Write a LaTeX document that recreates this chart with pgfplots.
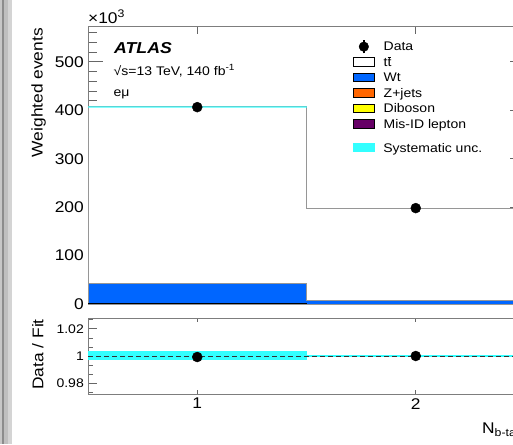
\documentclass[border=0pt]{standalone}
\usepackage{fontspec}
\setmainfont{Liberation Sans}[FakeStretch=1.12]
\usepackage{pgfplots}
\pgfplotsset{compat=1.18}
\usetikzlibrary{calc}
\definecolor{wtblue}{RGB}{0,102,255}
\definecolor{zjorange}{RGB}{255,102,0}
\definecolor{dibyellow}{RGB}{255,255,0}
\definecolor{misid}{RGB}{102,0,102}
\definecolor{sysc}{RGB}{51,255,255}
\definecolor{framec}{RGB}{125,125,125}
\definecolor{stackl}{RGB}{150,150,150}
\newcommand{\fs}[1]{\fontsize{#1}{#1}\selectfont}
\begin{document}
\begin{tikzpicture}
\pgfplotsset{
  common/.style={
    scale only axis, width=437pt,
    xmin=0.5, xmax=2.5,
    xtick={1,2},
    /pgf/number format/assume math mode=true,
    axis line style={draw=framec, line width=1pt},
    tick style={draw=black!60, line width=0.8pt},
    tick align=inside,
  }
}
\begin{axis}[common, name=main, at={(0,0)}, anchor=south west, height=277pt,
  ymin=0, ymax=572,
  xticklabels={},
  ytick={0,100,200,300,400,500},
  minor ytick={20,40,60,80,120,140,160,180,220,240,260,280,320,340,360,380,420,440,460,480,520,540,560},
  major tick length=15pt, minor tick length=8.7pt,
  xtick style={/pgfplots/major tick length=7.5pt},
  yticklabel style={font=\fs{15.5}, inner sep=0pt, xshift=-4pt},
  legend style={draw=none, fill=none, inner sep=0pt, outer sep=0pt,
    at={(0.6064,0.947)}, anchor=north west, font=\fs{12.5},
    column sep=9pt, row sep=3.5pt,
    nodes={inner sep=0pt, text height=9pt, text depth=3pt, anchor=base west}},
  legend cell align=left,
]
% stack: total (ttbar on top)
\addplot[const plot, fill=white, draw=stackl, line width=1pt, forget plot]
  coordinates {(0.5,407.5) (1.5,198) (2.5,198)} \closedcycle;
% Wt
\addplot[const plot, fill=wtblue, draw=stackl, line width=1pt, forget plot]
  coordinates {(0.5,42.8) (1.5,6.2) (2.5,6.2)} \closedcycle;
% small backgrounds in bin 1
\addplot[fill=black, draw=none, forget plot]
  coordinates {(0.5,0) (0.5,2.4) (1.5,2.4) (1.5,0)} -- cycle;
% systematic band
\addplot[fill=sysc, draw=none, opacity=0.6, forget plot]
  coordinates {(0.5,404.0) (0.5,409.0) (1.5,409.0) (1.5,404.0)} -- cycle;
% data
\addplot[only marks, mark=*, mark size=5pt, black, forget plot]
  coordinates {(1,406.5) (2,198)};
% legend
\addlegendimage{legend image code/.code={
  \draw[black, line width=1.3pt, overlay] (10.5pt,-2.5pt) -- (10.5pt,11pt);
  \fill[black] (10.5pt,4.2pt) circle (4.8pt);}}
\addlegendentry{Data}
\addlegendimage{legend image code/.code={\draw[black, fill=white, line width=0.7pt] (0pt,0.3pt) rectangle (21pt,8.6pt);}}
\addlegendentry{t\(\overline{\mbox{t}}\)}
\addlegendimage{legend image code/.code={\draw[black, fill=wtblue, line width=0.7pt] (0pt,0.3pt) rectangle (21pt,8.6pt);}}
\addlegendentry{Wt}
\addlegendimage{legend image code/.code={\draw[black, fill=zjorange, line width=0.7pt] (0pt,0.3pt) rectangle (21pt,8.6pt);}}
\addlegendentry{Z+jets}
\addlegendimage{legend image code/.code={\draw[black, fill=dibyellow, line width=0.7pt] (0pt,0.3pt) rectangle (21pt,8.6pt);}}
\addlegendentry{Diboson}
\addlegendimage{legend image code/.code={\draw[black, fill=misid, line width=0.7pt] (0pt,0.3pt) rectangle (21pt,8.6pt);}}
\addlegendentry{Mis-ID lepton}
\end{axis}
% second legend (systematic)
\begin{axis}[at={(main.south west)}, anchor=south west, scale only axis,
  width=437pt, height=277pt, hide axis, xmin=0, xmax=1, ymin=0, ymax=1,
  legend style={draw=none, fill=none, inner sep=0pt, outer sep=0pt,
    at={(0.6064,0.5823)}, anchor=north west, font=\fs{12.5},
    column sep=9pt,
    nodes={inner sep=0pt, text height=9pt, text depth=3pt, anchor=base west}},
  legend cell align=left]
\addlegendimage{legend image code/.code={\fill[sysc] (0pt,1pt) rectangle (21pt,9.5pt);}}
\addlegendentry{Systematic unc.}
\end{axis}
% ratio panel
\coordinate (rtop) at ($(main.south west)+(0pt,-14pt)$);
\begin{axis}[common, name=ratio, at={(rtop)}, anchor=north west, height=76pt,
  ymin=0.972, ymax=1.028,
  ytick={0.98,1,1.02}, yticklabels={0.98,1,1.02},
  minor ytick={0.97333,0.98667,0.99333,1.00667,1.01333,1.02667},
  major tick length=9pt, minor tick length=5pt,
  xtick style={/pgfplots/major tick length=4pt},
  yticklabel style={font=\fs{12.5}, inner sep=0pt, xshift=-4pt},
  xticklabel style={font=\fs{15.5}, inner sep=0pt, yshift=-4pt},
]
\addplot[fill=sysc, draw=none]
  coordinates {(0.5,0.99677) (0.5,1.00375) (1.5,1.00375) (1.5,0.99677)} -- cycle;
\addplot[fill=sysc, draw=none]
  coordinates {(1.5,0.99945) (1.5,1.00055) (2.5,1.00055) (2.5,0.99945)} -- cycle;
\addplot[black!80, line width=0.7pt, dash pattern=on 5pt off 3pt]
  coordinates {(0.5,1) (2.5,1)};
\addplot[only marks, mark=*, mark size=5pt, black]
  coordinates {(1,0.99925) (2,1.0)};
\end{axis}
% labels
\node[rotate=90, anchor=base east, inner sep=0pt, font=\fs{15.5}] at ($(main.north west)+(-45.3pt,-1pt)$) {Weighted events};
\node[rotate=90, anchor=base east, inner sep=0pt, font=\fs{15.5}] at ($(ratio.north west)+(-44.5pt,-1pt)$) {Data / Fit};
\node[anchor=base west, inner sep=0pt, font=\fs{15.5}] at ($(main.north west)+(0pt,3pt)$) {×10\raisebox{6pt}{\fs{11}3}};
\node[anchor=base west, inner sep=0pt, font=\fs{15.8}\bfseries\itshape] at ($(main.north west)+(26pt,-27pt)$) {ATLAS};
\node[anchor=base west, inner sep=0pt, font=\fs{12.5}] at ($(main.north west)+(25.5pt,-48.7pt)$) {√s=13 TeV, 140 fb\raisebox{5pt}{\fs{9}-1}};
\node[anchor=base west, inner sep=0pt, font=\fs{12.5}] at ($(main.north west)+(25.5pt,-69.7pt)$) {eμ};
\node[anchor=base west, inner sep=0pt, font=\fs{15.5}] at ($(ratio.south west)+(394pt,-39.3pt)$) {N\raisebox{-3.5pt}{\fs{11}b-tags}};
% grey strip at the left edge
\coordinate (TL) at ($(main.north west)+(-88pt,27pt)$);
\coordinate (BL) at ($(ratio.south west)+(-88pt,-50pt)$);
\fill[black!22] (TL) rectangle ($(BL)+(2pt,0)$);
\fill[black!45] ($(TL)+(2pt,0)$) rectangle ($(BL)+(4pt,0)$);
\fill[black!25] ($(TL)+(4pt,0)$) rectangle ($(BL)+(8pt,0)$);
\fill[black!17] ($(TL)+(8pt,0)$) rectangle ($(BL)+(12pt,0)$);
\pgfresetboundingbox
\useasboundingbox (TL) rectangle ($(ratio.south west)+(425pt,-50pt)$);
\end{tikzpicture}
\end{document}
